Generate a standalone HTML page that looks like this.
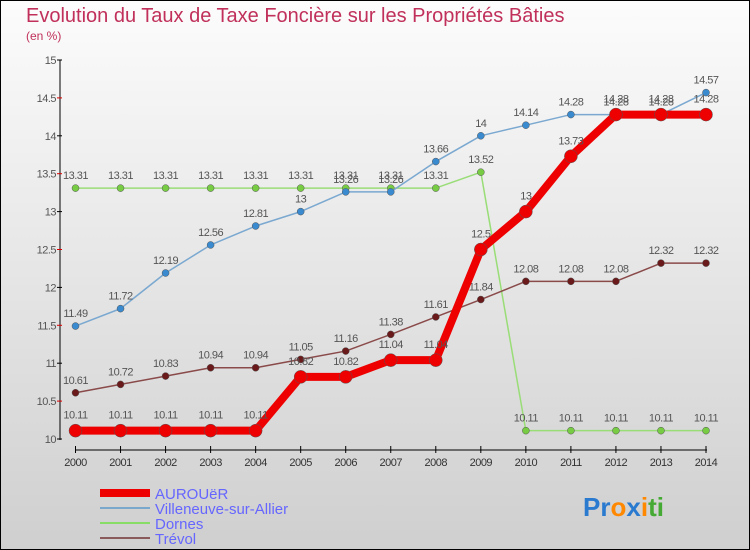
<!DOCTYPE html>
<html><head><meta charset="utf-8"><style>
body{margin:0;width:750px;height:550px;overflow:hidden}
svg{display:block;font-family:"Liberation Sans",sans-serif}
</style></head><body>
<svg id="c" width="750" height="550">
<defs><linearGradient id="bg" x1="0" y1="0" x2="0" y2="1"><stop offset="0" stop-color="#fcfcfc"/><stop offset="1" stop-color="#cfcfcf"/></linearGradient></defs>
<rect x="0.5" y="0.5" width="749" height="549" fill="url(#bg)" stroke="#000"/>
<text x="26" y="22" font-size="20" fill="#c0305a">Evolution du Taux de Taxe Foncière sur les Propriétés Bâties</text>
<text x="26" y="40" font-size="12" fill="#c0305a">(en %)</text>
<g id="axes"></g><g id="series"></g>
<g>
<line x1="100" y1="493" x2="150" y2="493" stroke="#ee0000" stroke-width="8"/>
<text x="155" y="499" font-size="15" fill="#6666ff">AUROUëR</text>
<line x1="100" y1="508" x2="150" y2="508" stroke="#7aa8cc" stroke-width="2"/>
<text x="155" y="514" font-size="15" fill="#6666ff">Villeneuve-sur-Allier</text>
<line x1="100" y1="523" x2="150" y2="523" stroke="#88dd66" stroke-width="2"/>
<text x="155" y="529" font-size="15" fill="#6666ff">Dornes</text>
<line x1="100" y1="538" x2="150" y2="538" stroke="#8a5a5a" stroke-width="2"/>
<text x="155" y="544" font-size="15" fill="#6666ff">Trévol</text>
</g>
<text x="583" y="516" font-size="26" font-weight="bold"><tspan fill="#2a7ad0">Pr</tspan><tspan fill="#ff8800">o</tspan><tspan fill="#2a7ad0">x</tspan><tspan fill="#ff8800">i</tspan><tspan fill="#44aa33">ti</tspan></text>
</svg>
<script>
const years=[2000,2001,2002,2003,2004,2005,2006,2007,2008,2009,2010,2011,2012,2013,2014];
const aurouer=[10.11,10.11,10.11,10.11,10.11,10.82,10.82,11.04,11.04,12.5,13,13.73,14.28,14.28,14.28];
const villeneuve=[11.49,11.72,12.19,12.56,12.81,13,13.26,13.26,13.66,14,14.14,14.28,14.28,14.28,14.57];
const dornes=[13.31,13.31,13.31,13.31,13.31,13.31,13.31,13.31,13.31,13.52,10.11,10.11,10.11,10.11,10.11];
const trevol=[10.61,10.72,10.83,10.94,10.94,11.05,11.16,11.38,11.61,11.84,12.08,12.08,12.08,12.32,12.32];
const yTicks=[10,10.5,11,11.5,12,12.5,13,13.5,14,14.5,15];
const NS='http://www.w3.org/2000/svg';
const x=i=>75.5+i*(706-75.5)/(years.length-1);
const y=v=>439-(v-10)*(439-60)/5;
function mk(tag,attrs,parent){const e=document.createElementNS(NS,tag);for(const k in attrs)e.setAttribute(k,attrs[k]);parent.appendChild(e);return e;}
const ax=document.getElementById('axes');
let l=mk('line',{x1:60,y1:60,x2:60,y2:440,stroke:'#000'},ax);


l=mk('line',{x1:75,y1:450,x2:707,y2:450,stroke:'#000'},ax);


yTicks.forEach((v,i)=>{
  mk('line',{x1:57,y1:y(v),x2:62,y2:y(v),stroke:i%2?'#d00':'#000'},ax);
  if(i%2===0||true){const t=mk('text',{x:56,y:y(v)+4,'font-size':11,fill:'#555','text-anchor':'end','letter-spacing':'-0.5'},ax);t.textContent=String(v);
  
  }
});
years.forEach((yr,i)=>{
  mk('line',{x1:x(i),y1:446,x2:x(i),y2:453,stroke:'#000'},ax);
  const t=mk('text',{x:x(i),y:466,'font-size':11,fill:'#333','text-anchor':'middle','letter-spacing':'-0.5'},ax);t.textContent=yr;
  
  
});
const sg=document.getElementById('series');
function draw(name,vals,color,w,r,pc,labOff){
  const g=mk('g',{},sg);
  
  
  const p=mk('polyline',{points:vals.map((v,i)=>x(i)+','+y(v)).join(' '),fill:'none',stroke:color,'stroke-width':w,'stroke-linejoin':'round'},g);
  
  
  vals.forEach((v,i)=>{
    const c=mk('circle',{cx:x(i),cy:y(v),r:r,fill:pc,stroke:'#555','stroke-width':0.5},g);
    
    
    const t=mk('text',{x:x(i),y:y(v)-labOff,'font-size':11,fill:'#555','text-anchor':'middle','letter-spacing':'-0.5'},g);t.textContent=String(v);
    
    
  });
}
draw('dornes',dornes,'#99dd77',1.5,3.5,'#77cc44',9);
draw('trevol',trevol,'#8a4a4a',1.5,3.5,'#6a1a1a',9);
draw('villeneuve',villeneuve,'#7aa8d0',1.5,3.5,'#3a8ad0',9);
draw('aurouer',aurouer,'#ee0000',8,6.5,'#ee0000',12);
</script>
</body></html>
